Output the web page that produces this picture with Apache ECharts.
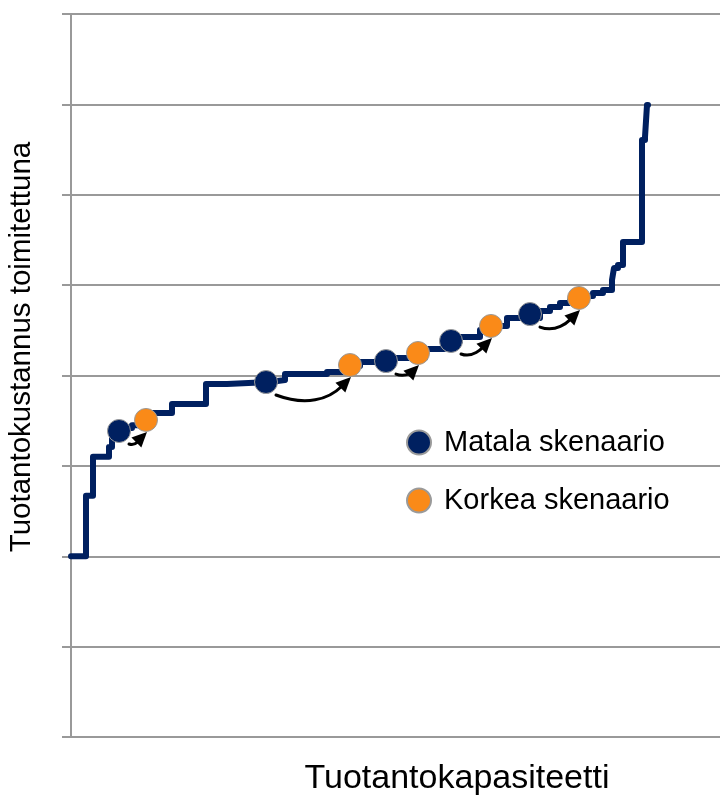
<!DOCTYPE html>
<html>
<head>
<meta charset="utf-8">
<script src="https://cdn.jsdelivr.net/npm/echarts@6/dist/echarts.min.js"></script>
<style>
  html, body { margin: 0; padding: 0; background: #fff; }
  #chart { width: 720px; height: 798px; }
</style>
</head>
<body>
<div id="chart"></div>
<script>
// Merit-order supply curve: cumulative capacity where each block starts, and its unit cost
const capacityStart = [0, 15, 22, 38, 41, 44, 53, 61, 77, 101,
  135, 156, 199, 214, 256, 274, 289, 321, 354, 373,
  389, 409, 426, 436, 469, 479, 489, 499, 514, 522,
  532, 541, 543, 547, 552, 571, 574, 576, 577];
const unitCost = [2.00, 2.67, 3.10, 3.21, 3.31, 3.36, 3.42, 3.45, 3.585, 3.685,
  3.906, 3.928, 3.95, 4.017, 4.04, 4.105, 4.149, 4.194, 4.293, 4.38,
  4.426, 4.503, 4.548, 4.636, 4.714, 4.758, 4.802, 4.836, 4.88, 4.913,
  4.946, 5.057, 5.19, 5.223, 5.477, 6.606, 6.639, 6.993, 7.0];

// Scenario points on the curve
const matalaCap = [48, 195, 315, 380, 459];
const matalaCost = [3.386, 3.928, 4.160, 4.382, 4.680];
const korkeaCap = [75, 279, 347, 420, 508];
const korkeaCost = [3.508, 4.116, 4.249, 4.548, 4.858];

const seriesNames = ['Matala skenaario', 'Korkea skenaario'];
const axisTitleX = 'Tuotantokapasiteetti';
const axisTitleY = 'Tuotantokustannus toimitettuna';

const navy = '#002060';
const orange = '#FA8A18';
const gridGray = '#999999';
const font = '"Liberation Sans", Arial, sans-serif';

const curveData = capacityStart.map((c, i) => [c, unitCost[i]]);
const matalaData = matalaCap.map((c, i) => [c, matalaCost[i]]);
const korkeaData = korkeaCap.map((c, i) => [c, korkeaCost[i]]);
// Each arrow links a low-scenario point to the corresponding high-scenario point
const shiftData = matalaCap.map((c, i) => [c, matalaCost[i], korkeaCap[i], korkeaCost[i]]);

const chart = echarts.init(document.getElementById('chart'), null, { renderer: 'canvas' });

function renderShift(params, api) {
  const a = api.coord([api.value(0), api.value(1)]);
  const b = api.coord([api.value(2), api.value(3)]);
  const p0 = [a[0] + 10, a[1] + 13];
  const p1 = [b[0] + 1, b[1] + 12];
  const dx = p1[0] - p0[0];
  const cp1 = [p0[0] + 0.4 * dx, p0[1] + 0.15 * dx];
  const cp2 = [p1[0] - 0.3 * dx, p1[1] + 0.3 * dx];
  // arrowhead oriented along the curve's final tangent
  let tx = p1[0] - cp2[0], ty = p1[1] - cp2[1];
  const len = Math.sqrt(tx * tx + ty * ty) || 1;
  tx /= len; ty /= len;
  const headLen = 15, headHalf = 7;
  const bx = p1[0] - tx * headLen, by = p1[1] - ty * headLen;
  const nx = -ty, ny = tx;
  return {
    type: 'group',
    children: [
      {
        type: 'bezierCurve',
        shape: {
          x1: p0[0], y1: p0[1], x2: bx + tx * 2, y2: by + ty * 2,
          cpx1: cp1[0], cpy1: cp1[1], cpx2: cp2[0], cpy2: cp2[1]
        },
        style: { stroke: '#000', lineWidth: 3, fill: null, lineCap: 'round' }
      },
      {
        type: 'polygon',
        shape: {
          points: [
            [p1[0], p1[1]],
            [bx + nx * headHalf, by + ny * headHalf],
            [bx - nx * headHalf, by - ny * headHalf]
          ]
        },
        style: { fill: '#000' }
      }
    ]
  };
}

const option = {
  animation: false,
  backgroundColor: '#fff',
  grid: { left: 71, right: 0, top: 14, bottom: 61, containLabel: false },
  xAxis: {
    type: 'value',
    min: 0,
    max: 649,
    axisLine: { show: false },
    axisTick: { show: false },
    axisLabel: { show: false },
    splitLine: { show: false }
  },
  yAxis: {
    type: 'value',
    min: 0,
    max: 8,
    interval: 1,
    axisLine: { show: true, lineStyle: { color: gridGray, width: 2 } },
    axisTick: { show: true, length: 9, lineStyle: { color: gridGray, width: 2 } },
    axisLabel: { show: false },
    splitLine: { show: true, lineStyle: { color: gridGray, width: 2 } }
  },
  legend: {
    data: seriesNames,
    orient: 'vertical',
    left: 406,
    top: 428,
    itemWidth: 24,
    itemHeight: 24,
    itemGap: 29,
    padding: 0,
    textStyle: { fontFamily: font, fontSize: 29, color: '#000', lineHeight: 24, padding: [0, 0, 0, 8] }
  },
  graphic: [
    {
      type: 'text',
      x: 22,
      y: 347,
      rotation: Math.PI / 2,
      style: {
        text: axisTitleY, fontFamily: font, fontSize: 29.5, fill: '#000',
        align: 'center', verticalAlign: 'middle'
      }
    },
    {
      type: 'text',
      x: 457,
      y: 779,
      style: {
        text: axisTitleX, fontFamily: font, fontSize: 34, fill: '#000',
        align: 'center', verticalAlign: 'middle'
      }
    }
  ],
  series: [
    {
      name: 'curve',
      type: 'line',
      step: 'end',
      data: curveData,
      showSymbol: false,
      lineStyle: { color: navy, width: 6, cap: 'round', join: 'round' },
      z: 2
    },
    {
      name: 'shift',
      type: 'custom',
      renderItem: renderShift,
      data: shiftData,
      encode: { x: [0, 2], y: [1, 3] },
      z: 3
    },
    {
      name: seriesNames[0],
      type: 'scatter',
      data: matalaData,
      symbol: 'circle',
      symbolSize: 23,
      itemStyle: { color: navy, borderColor: '#9a9a9a', borderWidth: 1, opacity: 1 },
      z: 4
    },
    {
      name: seriesNames[1],
      type: 'scatter',
      data: korkeaData,
      symbol: 'circle',
      symbolSize: 23,
      itemStyle: { color: orange, borderColor: '#9a9a9a', borderWidth: 1, opacity: 1 },
      z: 5
    }
  ]
};

chart.setOption(option);
</script>
</body>
</html>
